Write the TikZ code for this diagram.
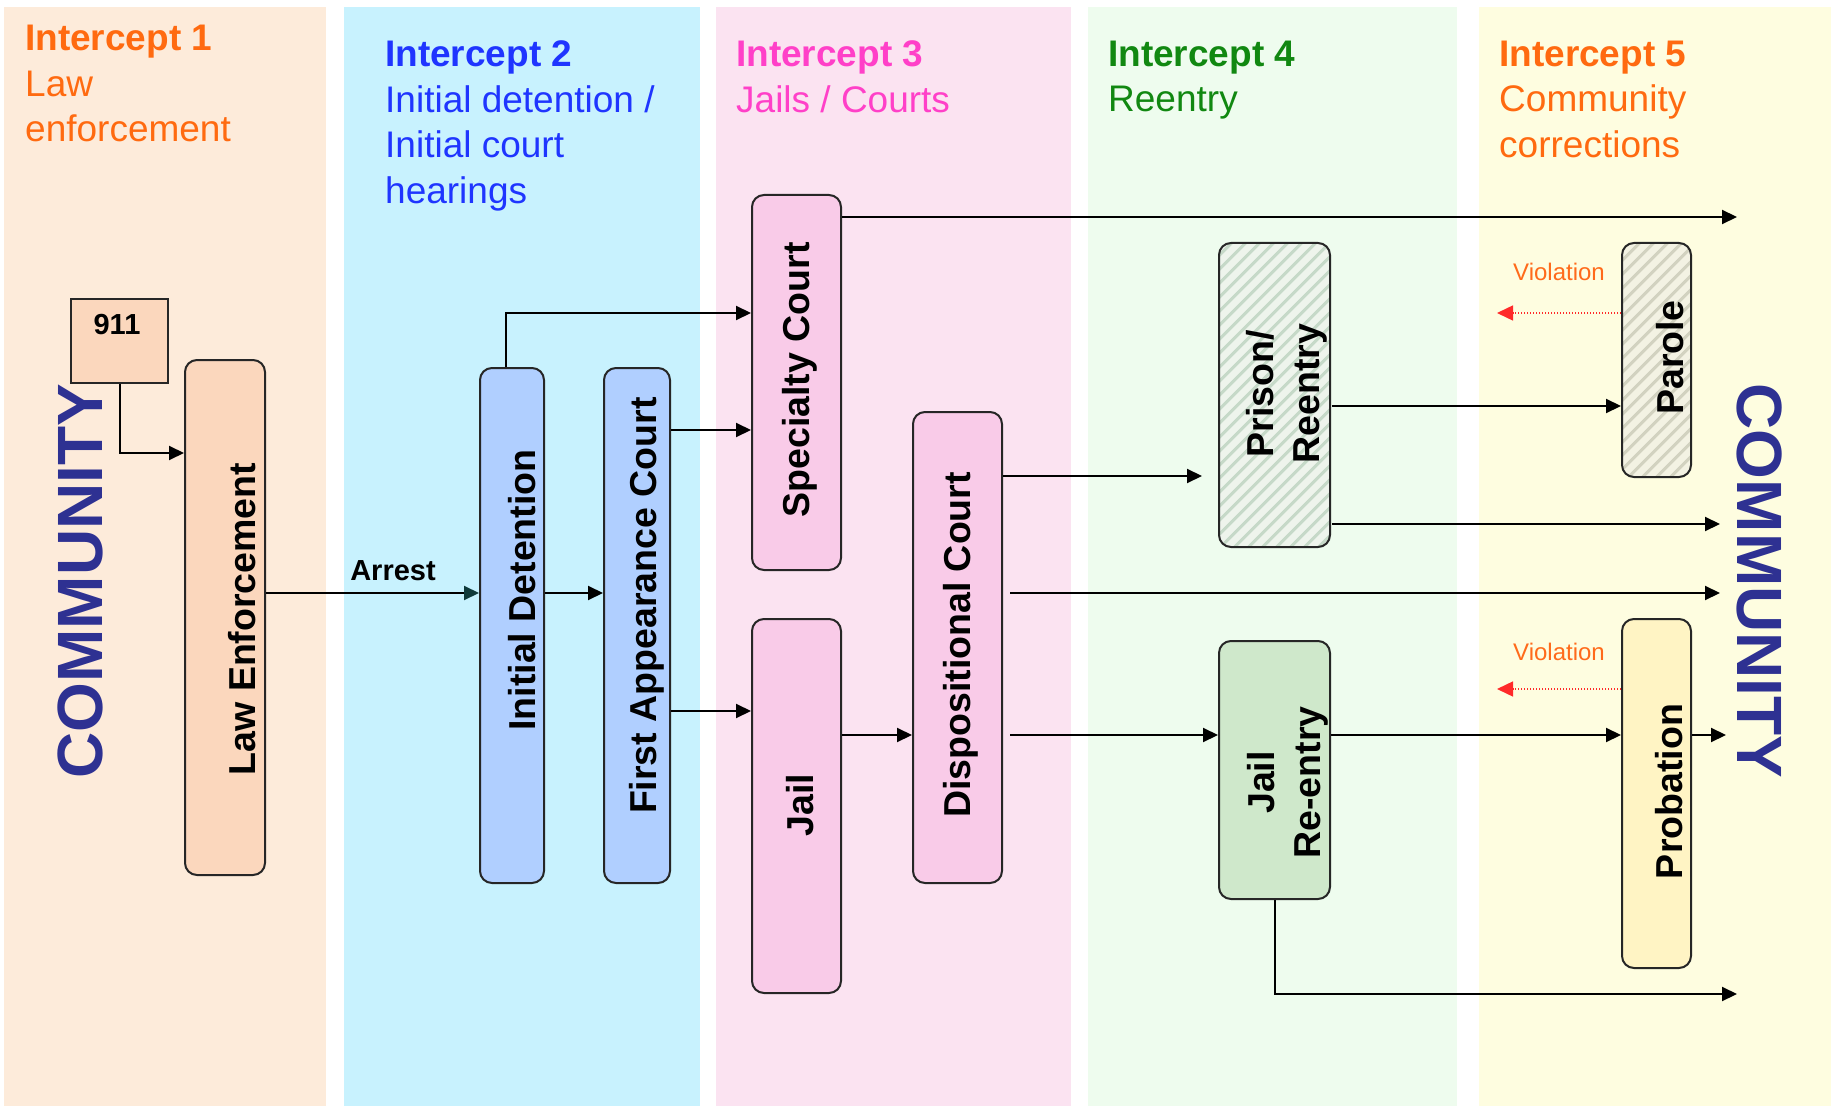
\documentclass[tikz,border=0pt]{standalone}
\usepackage{fontspec}
\setmainfont{Liberation Sans}
\usetikzlibrary{arrows.meta,patterns.meta}
\definecolor{bgA}{HTML}{FDEBDA}
\definecolor{bgB}{HTML}{C8F2FE}
\definecolor{bgC}{HTML}{FBE3F1}
\definecolor{bgD}{HTML}{EEFCEE}
\definecolor{bgE}{HTML}{FEFDE0}
\definecolor{hOrange}{HTML}{FF6A10}
\definecolor{hBlue}{HTML}{1F35FF}
\definecolor{hPink}{HTML}{FF40C8}
\definecolor{hGreen}{HTML}{118811}
\definecolor{comm}{HTML}{2E3192}
\definecolor{fPeach}{HTML}{FBD7BD}
\definecolor{fBlue}{HTML}{B0CFFF}
\definecolor{fPink}{HTML}{F9CBE8}
\definecolor{fGreen}{HTML}{CFE8CB}
\definecolor{fYellow}{HTML}{FFF4C4}
\definecolor{hatchGbg}{HTML}{EEF4EC}
\definecolor{hatchG}{HTML}{C6D9C8}
\definecolor{hatchYbg}{HTML}{F3F2E3}
\definecolor{hatchY}{HTML}{D2D2C0}
\definecolor{violRed}{HTML}{FF2A2A}
\definecolor{violTxt}{HTML}{FF6A1A}
\definecolor{arrTeal}{HTML}{0F3A3A}
\begin{document}
\begin{tikzpicture}[x=1pt,y=-1pt,
  box/.style={draw=black!85,line width=2pt,rounded corners=12pt,inner sep=0pt},
  sqbox/.style={draw=black!85,line width=2pt,sharp corners,inner sep=0pt},
  hatchG/.style={preaction={fill=hatchGbg},pattern={Lines[angle=45,distance=10.5pt,line width=3.5pt]},pattern color=hatchG},
  hatchY/.style={preaction={fill=hatchYbg},pattern={Lines[angle=45,distance=10.5pt,line width=3.5pt]},pattern color=hatchY},
  vlab/.style={rotate=90,inner sep=0pt,align=center,font=\fontsize{37.5}{46}\selectfont\bfseries},
  head/.style={anchor=north west,inner sep=0pt,align=left,font=\fontsize{37}{45.5}\selectfont},
  small/.style={inner sep=0pt,font=\fontsize{29}{32}\selectfont\bfseries},
  conn/.style={line width=2pt,-{Triangle[length=15pt,width=14pt]}},
  viol/.style={line width=1.5pt,violRed,dash pattern=on 1.5pt off 1.5pt,-{Triangle[length=16pt,width=15pt]}},
  vtxt/.style={inner sep=0pt,text=violTxt,font=\fontsize{24}{28}\selectfont},
  commtxt/.style={inner sep=0pt,text=comm,font=\fontsize{64}{64}\selectfont\bfseries},
]
\useasboundingbox (0,0) rectangle (1831,1107);
\fill[white] (0,0) rectangle (1831,1107);
% panels
\fill[bgA] (4,7) rectangle (326,1106);
\fill[bgB] (344,7) rectangle (700,1106);
\fill[bgC] (716,7) rectangle (1071,1106);
\fill[bgD] (1088,7) rectangle (1457,1106);
\fill[bgE] (1479,7) rectangle (1831,1106);
% headers
\node[head,text=hOrange] (h1) at (25,25.3) {\textbf{Intercept 1}\\Law\\enforcement};
\node[head,text=hBlue] (h2) at (385,40.7) {\textbf{Intercept 2}\\Initial detention /\\Initial court\\hearings};
\node[head,text=hPink] (h3) at (736,40.7) {\textbf{Intercept 3}\\Jails / Courts};
\node[head,text=hGreen] (h4) at (1108,40.7) {\textbf{Intercept 4}\\Reentry};
\node[head,text=hOrange] (h5) at (1499,40.7) {\textbf{Intercept 5}\\Community\\corrections};
% community labels
\node[commtxt,rotate=90] (commL) at (80.5,581) {COMMUNITY};
\node[commtxt,rotate=-90] (commR) at (1760,581) {COMMUNITY};
% boxes
\node[sqbox,fill=fPeach,minimum width=97pt,minimum height=84pt] (n911) at (119.5,341) {};
\node[box,fill=fPeach,minimum width=80pt,minimum height=515pt] (le) at (225,617.5) {};
\node[box,fill=fBlue,minimum width=64pt,minimum height=515pt] (id) at (512,625.5) {};
\node[box,fill=fBlue,minimum width=66pt,minimum height=515pt] (fac) at (637,625.5) {};
\node[box,fill=fPink,minimum width=89pt,minimum height=375pt] (spec) at (796.5,382.5) {};
\node[box,fill=fPink,minimum width=89pt,minimum height=374pt] (jail) at (796.5,806) {};
\node[box,fill=fPink,minimum width=89pt,minimum height=471pt] (dc) at (957.5,647.5) {};
\node[box,hatchG,minimum width=111pt,minimum height=304pt] (pr) at (1274.5,395) {};
\node[box,fill=fGreen,minimum width=111pt,minimum height=258pt] (jr) at (1274.5,770) {};
\node[box,hatchY,minimum width=69pt,minimum height=234pt] (parole) at (1656.5,360) {};
\node[box,fill=fYellow,minimum width=69pt,minimum height=349pt] (prob) at (1656.5,793.5) {};
% box texts
\node[small] (t911) at (117,325) {911};
\node[vlab] (tle) at (242,619) {Law Enforcement};
\node[vlab] (tid) at (522,590) {Initial Detention};
\node[vlab] (tfac) at (647,605.6) {First Appearance Court};
\node[vlab] (tspec) at (800,380) {Specialty Court};
\node[vlab] (tjail) at (800,805) {Jail};
\node[vlab] (tdc) at (960.5,645) {Dispositional Court};
\node[vlab] (tpr) at (1286.5,393.5) {Prison/\\Reentry};
\node[vlab] (tjr) at (1288,782.5) {Jail\\Re-entry};
\node[vlab] (tparole) at (1670,357.5) {Parole};
\node[vlab] (tprob) at (1669,791.5) {Probation};
% helper coordinates
\coordinate (yA) at (0,453);
\coordinate (yB) at (0,593);
\coordinate (yD) at (0,313);
\coordinate (yE) at (0,430);
\coordinate (yF) at (0,711);
\coordinate (yG) at (0,735);
\coordinate (yH) at (0,217);
\coordinate (yI) at (0,476);
\coordinate (yK) at (0,406);
\coordinate (yL) at (0,524);
\coordinate (yR) at (0,689);
\coordinate (xD) at (506,0);
\coordinate (endH) at (1737,217);
\coordinate (endI) at (1202,476);
\coordinate (endJ) at (1720,593);
\coordinate (endL) at (1720,524);
\coordinate (endO) at (1726,735);
\coordinate (endP) at (1737,994);
\coordinate (endQ) at (1497,313);
\coordinate (endR) at (1497,689);
% connectors
\draw[conn] (n911.south) |- (le.west |- yA);
\draw[line width=2pt,-{Triangle[length=15pt,width=14pt,color=arrTeal]}] (le.east |- yB) -- (id.west |- yB);
\node[small] (arrest) at (393,570.5) {Arrest};
\draw[conn] (id.east |- yB) -- (fac.west |- yB);
\draw[conn] (xD |- id.north) |- (spec.west |- yD);
\draw[conn] (fac.east |- yE) -- (spec.west |- yE);
\draw[conn] (fac.east |- yF) -- (jail.west |- yF);
\draw[conn] (jail.east |- yG) -- (dc.west |- yG);
\draw[conn] (spec.east |- yH) -- (endH);
\draw[conn] (dc.east |- yI) -- (endI);
\draw[conn] ([xshift=7pt]dc.east |- yB) -- (endJ);
\draw[conn] ([xshift=7pt]dc.east |- yG) -- (jr.west |- yG);
\draw[conn] (pr.east |- yK) -- (parole.west |- yK);
\draw[conn] (pr.east |- yL) -- (endL);
\draw[conn] (jr.east |- yG) -- (prob.west |- yG);
\draw[conn] (prob.east |- yG) -- (endO);
\draw[conn] (jr.south) |- (endP);
\draw[viol] (parole.west |- yD) -- (endQ);
\draw[viol] (prob.west |- yR) -- (endR);
\node[vtxt] (v1) at (1559,272) {Violation};
\node[vtxt] (v2) at (1559,652) {Violation};
\end{tikzpicture}
\end{document}
